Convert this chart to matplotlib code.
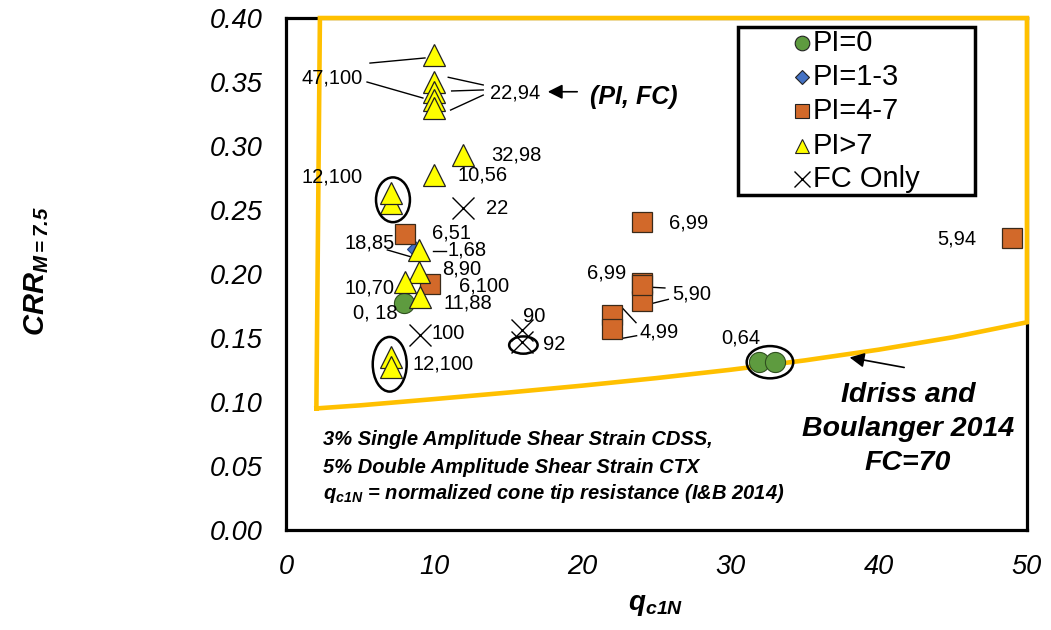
import numpy as np
import matplotlib.pyplot as plt
from matplotlib.patches import Ellipse, Rectangle
from matplotlib.ticker import FormatStrFormatter

plt.rcParams['font.family'] = ['Liberation Sans', 'DejaVu Sans']
plt.rcParams['mathtext.fontset'] = 'custom'
plt.rcParams['mathtext.rm'] = 'Liberation Sans'
plt.rcParams['mathtext.it'] = 'Liberation Sans:italic'
plt.rcParams['mathtext.bf'] = 'Liberation Sans:bold'
plt.rcParams['mathtext.bfit'] = 'Liberation Sans:bold:italic'

# test results, grouped by plasticity index
pi0_q = [7.96, 31.94, 33.0]
pi0_crr = [0.177, 0.1315, 0.1315]

pi13_q = [8.7]
pi13_crr = [0.2193]

pi47_q = [8.03, 9.7, 24.0, 24.0, 24.0, 24.0, 22.0, 22.0, 49.0]
pi47_crr = [0.2313, 0.192, 0.2404, 0.1789, 0.1927, 0.1914, 0.168, 0.157, 0.228]

pi7_q = [10.0, 10.0, 10.0, 10.0, 10.0, 11.97, 10.0, 7.06, 7.06,
         9.0, 9.0, 8.03, 9.04, 7.06, 7.06]
pi7_crr = [0.371, 0.350, 0.342, 0.336, 0.330, 0.293, 0.2773, 0.2555, 0.2635,
           0.219, 0.2018, 0.1938, 0.1818, 0.1354, 0.1276]

fc_q = [11.97, 9.04, 15.95, 15.95]
fc_crr = [0.2513, 0.152, 0.156, 0.147]

# Idriss & Boulanger (2014) triggering curve, FC=70
ib_q = [2.05, 5, 10, 15, 20, 25, 30, 35, 40, 45, 50]
ib_crr = [0.0950, 0.0974, 0.1023, 0.1074, 0.1128, 0.1187, 0.1252, 0.1325,
          0.1409, 0.1506, 0.1623]
ib_top_q = 2.29

# (PI, FC) point labels
labels = [
    ('47,100', 3.10, 0.353, 'center'),
    ('22,94', 15.45, 0.3416, 'center'),
    ('32,98', 13.85, 0.293, 'left'),
    ('10,56', 11.6, 0.2773, 'left'),
    ('22', 13.5, 0.2513, 'left'),
    ('12,100', 3.08, 0.276, 'center'),
    ('18,85', 5.62, 0.224, 'center'),
    ('6,51', 11.18, 0.2318, 'center'),
    ('1,68', 12.25, 0.2185, 'center'),
    ('8,90', 11.85, 0.2036, 'center'),
    ('6,100', 13.35, 0.1905, 'center'),
    ('10,70', 5.62, 0.1888, 'center'),
    ('11,88', 12.26, 0.1775, 'center'),
    ('0, 18', 6.05, 0.1693, 'center'),
    ('100', 10.95, 0.1536, 'center'),
    ('90', 16.73, 0.1667, 'center'),
    ('92', 18.08, 0.1453, 'center'),
    ('12,100', 10.57, 0.1297, 'center'),
    ('6,99', 27.15, 0.2401, 'center'),
    ('6,99', 21.64, 0.201, 'center'),
    ('5,90', 27.37, 0.1844, 'center'),
    ('4,99', 25.19, 0.1549, 'center'),
    ('0,64', 30.68, 0.1498, 'center'),
    ('5,94', 45.28, 0.2273, 'center'),
]

# leader lines from labels to points
leaders = [
    ((5.67, 0.3648), (9.38, 0.3688)),
    ((5.47, 0.350), (9.24, 0.3375)),
    ((13.31, 0.3477), (10.95, 0.3537)),
    ((13.31, 0.3438), (11.18, 0.3430)),
    ((13.31, 0.3398), (11.11, 0.3281)),
    ((6.84, 0.2188), (8.41, 0.2135)),
    ((9.94, 0.2182), (10.80, 0.2182)),
    ((24.74, 0.1896), (25.57, 0.1891)),
    ((24.74, 0.1771), (25.80, 0.1802)),
    ((22.72, 0.1732), (23.62, 0.1620)),
    ((22.72, 0.1498), (23.66, 0.1518)),
]

# highlighted groups: centre, width, height
rings = [
    (7.22, 0.258, 2.29, 0.035),
    (7.0, 0.1295, 2.29, 0.0427),
    (32.66, 0.1311, 3.14, 0.0252),
    (16.02, 0.1445, 1.92, 0.0135),
]

legend_labels = ['PI=0', 'PI=1-3', 'PI=4-7', 'PI>7', 'FC Only']
green = '#5E9B3F'
blue = '#4472C4'
orange = '#D2692A'
yellow = '#FFFF00'
gold = '#FFC000'

fig = plt.figure(figsize=(10.51, 6.3), dpi=100)
ax = fig.add_axes([0.2721, 0.1587, 0.7050, 0.8127])

ax.plot(pi0_q, pi0_crr, 'o', ms=14.5, mfc=green, mec='#2f4f1f', mew=0.8, zorder=4)
ax.plot(pi13_q, pi13_crr, 'D', ms=8, mfc=blue, mec='#1f3f7f', mew=0.8, zorder=4)
for q, c in zip(pi47_q, pi47_crr):
    ax.plot(q, c, 's', ms=15, mfc=orange, mec='#3a2a1a', mew=0.9, zorder=4)
for q, c in zip(pi7_q, pi7_crr):
    ax.plot(q, c, '^', ms=15.5, mfc=yellow, mec='#222222', mew=0.9, zorder=4)
ax.plot(fc_q, fc_crr, 'x', ms=16, color='black', mew=1.0, zorder=4)

for (x0, y0), (x1, y1) in leaders:
    ax.plot([x0, x1], [y0, y1], color='black', lw=1.0, zorder=3)

for cx, cy, w, h in rings:
    ax.add_patch(Ellipse((cx, cy), w, h, fill=False, ec='black', lw=1.8, zorder=5))

for text, q, c, ha in labels:
    ax.text(q, c, text, fontsize=14.5, ha=ha, va='center', zorder=6)

# boundary: left edge, top, right edge and the triggering curve
bq = [ib_q[0], ib_top_q, 50] + ib_q[::-1]
bc = [ib_crr[0], 0.40, 0.40] + ib_crr[::-1]
ax.plot(bq, bc, color=gold, lw=3.3, clip_on=False, zorder=3, solid_joinstyle='miter')

ax.annotate('', xy=(17.48, 0.3424), xytext=(19.84, 0.3424),
            arrowprops=dict(arrowstyle='-|>', color='black', lw=1.2, mutation_scale=22))
ax.text(23.48, 0.338, '(PI, FC)', fontsize=18, fontweight='bold', style='italic',
        ha='center', va='center')

ax.annotate('', xy=(37.85, 0.1352), xytext=(41.9, 0.1266),
            arrowprops=dict(arrowstyle='-|>', color='black', lw=1.2, mutation_scale=22))
ax.text(41.97, 0.0789, 'Idriss and\nBoulanger 2014\nFC=70', fontsize=20.5,
        fontweight='bold', style='italic', ha='center', va='center', linespacing=1.42)

note_kw = dict(fontsize=14.5, fontweight='bold', style='italic', ha='left', va='center')
ax.text(2.5, 0.0711, '3% Single Amplitude Shear Strain CDSS,', **note_kw)
ax.text(2.5, 0.0492, '5% Double Amplitude Shear Strain CTX', **note_kw)
ax.text(2.5, 0.0289, r'$\mathbfit{q}_{\mathbfit{c1N}}$ = normalized cone tip resistance (I&B 2014)',
        **note_kw)

# legend box
ax.add_patch(Rectangle((0.61, 0.654), 0.32, 0.328, transform=ax.transAxes,
                       fill=True, fc='white', ec='black', lw=2.5, zorder=7))
rows = [0.951, 0.885, 0.818, 0.750, 0.686]
styles = [('o', green, 10.5), ('D', blue, 7.5), ('s', orange, 10.5), ('^', yellow, 10.5), ('x', 'black', 11)]
for y, (m, col, ms), lab in zip(rows, styles, legend_labels):
    if m == 'x':
        ax.plot(0.696, y, m, ms=ms, color='black', mew=1.0, transform=ax.transAxes,
                clip_on=False, zorder=8)
    else:
        ax.plot(0.696, y, m, ms=ms, mfc=col, mec='#222222', mew=0.8,
                transform=ax.transAxes, clip_on=False, zorder=8)
    ax.text(0.711, y, lab, fontsize=21, ha='left', va='center',
            transform=ax.transAxes, zorder=8)

ax.set_xlim(0, 50)
ax.set_ylim(0, 0.40)
ax.set_xticks(np.arange(0, 51, 10))
ax.set_yticks(np.arange(0, 0.41, 0.05))
ax.yaxis.set_major_formatter(FormatStrFormatter('%.2f'))
ax.tick_params(length=0, labelsize=19.5, pad=17)
for lab in ax.get_xticklabels() + ax.get_yticklabels():
    lab.set_fontstyle('italic')
for s in ax.spines.values():
    s.set_linewidth(2.3)
    s.set_color('black')

fig.text(0.624, 0.040, r'$\mathbfit{q}_{\mathbfit{c1N}}$', fontsize=20,
         ha='center', va='center')
fig.text(0.035, 0.57, r'$\mathbfit{CRR}_{\mathbfit{M=7.5}}$', fontsize=21,
         ha='center', va='center', rotation=90)

fig.savefig('out.png', dpi=100)
